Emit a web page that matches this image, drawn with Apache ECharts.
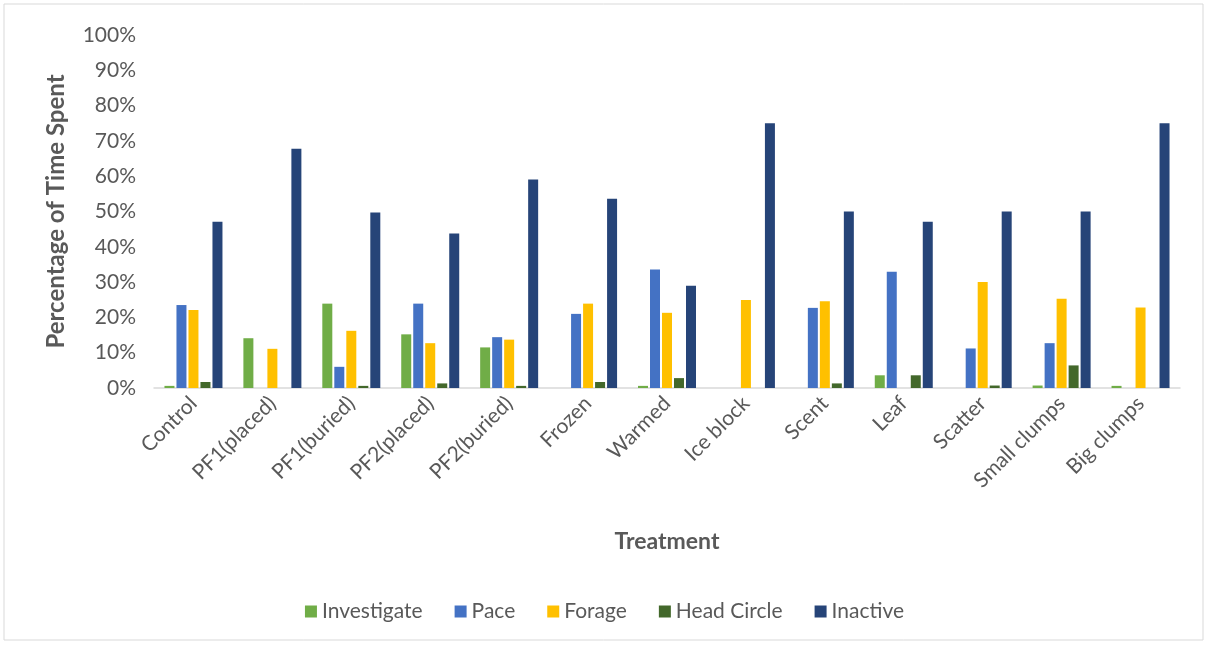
<!DOCTYPE html>
<html>
<head>
<meta charset="utf-8">
<script src="https://cdn.jsdelivr.net/npm/echarts@6/dist/echarts.min.js"></script>
<style>
  html, body { margin: 0; padding: 0; background: #fff; }
  #chart1 { width: 1209px; height: 646px; }
</style>
</head>
<body>
<div id="chart1"></div>
<script>
// categories and values (percent of time spent)
var treatments = ['Control', 'PF1(placed)', 'PF1(buried)', 'PF2(placed)', 'PF2(buried)', 'Frozen',
  'Warmed', 'Ice block', 'Scent', 'Leaf', 'Scatter', 'Small clumps', 'Big clumps'];
var investigate = [0.6, 14.1, 23.9, 15.2, 11.5, 0, 0.6, 0, 0, 3.6, 0, 0.7, 0.6];
var pace        = [23.5, 0, 6.0, 23.9, 14.4, 21.0, 33.6, 0, 22.7, 32.9, 11.2, 12.7, 0];
var forage      = [22.1, 11.1, 16.2, 12.7, 13.7, 23.9, 21.3, 24.9, 24.6, 0, 30.0, 25.3, 22.8];
var headCircle  = [1.7, 0, 0.6, 1.3, 0.6, 1.7, 2.8, 0, 1.3, 3.6, 0.7, 6.4, 0];
var inactive    = [47.1, 67.8, 49.7, 43.8, 59.1, 53.6, 29.0, 75.0, 50.0, 47.1, 50.0, 50.0, 75.0];
var yTicks = [0, 10, 20, 30, 40, 50, 60, 70, 80, 90, 100];

var myChart1 = echarts.init(document.getElementById('chart1'));
var txt = '#595959';
var font = 'Lato, "Open Sans", sans-serif';

function bar(name, data, color) {
    return {
        name: name,
        type: 'bar',
        data: data,
        barWidth: 10,
        barGap: '20%',
        itemStyle: { color: color },
        emphasis: { disabled: true }
    };
}

var option = {
    animation: false,
    textStyle: { fontFamily: font },
    graphic: [{
        type: 'rect',
        shape: { x: 4, y: 4, width: 1199, height: 636 },
        style: { fill: 'none', stroke: '#D9D9D9', lineWidth: 1 }
    }],
    grid: { left: 154, right: 29, top: 35, bottom: 258 },
    legend: {
        bottom: 19,
        left: 'center',
        itemWidth: 12,
        itemHeight: 12,
        itemGap: 32,
        icon: 'rect',
        textStyle: { color: txt, fontSize: 21, fontFamily: font },
        data: ['Investigate', 'Pace', 'Forage', 'Head Circle', 'Inactive']
    },
    xAxis: {
        type: 'category',
        data: treatments,
        name: 'Treatment',
        nameLocation: 'middle',
        nameGap: 142,
        nameTextStyle: { color: txt, fontSize: 23, fontWeight: 'bold', fontFamily: font },
        axisLine: { lineStyle: { color: '#D9D9D9', width: 1.5 } },
        axisTick: { show: false },
        axisLabel: { rotate: 45, color: txt, fontSize: 21, interval: 0, margin: 12 }
    },
    yAxis: {
        type: 'value',
        min: yTicks[0],
        max: yTicks[yTicks.length - 1],
        interval: 10,
        name: 'Percentage of Time Spent',
        nameLocation: 'middle',
        nameGap: 86,
        nameTextStyle: { color: txt, fontSize: 24, fontWeight: 'bold', fontFamily: font },
        axisLine: { show: false },
        axisTick: { show: false },
        splitLine: { show: false },
        axisLabel: { color: txt, fontSize: 21, formatter: '{value}%', margin: 18 }
    },
    series: [
        bar('Investigate', investigate, '#70AD47'),
        bar('Pace', pace, '#4472C4'),
        bar('Forage', forage, '#FFC000'),
        bar('Head Circle', headCircle, '#43682B'),
        bar('Inactive', inactive, '#264478')
    ]
};
myChart1.setOption(option);
</script>
</body>
</html>
